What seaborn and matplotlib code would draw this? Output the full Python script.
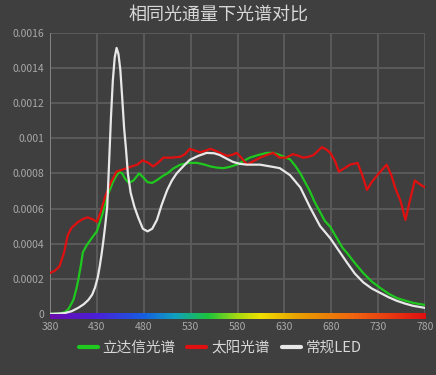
import numpy as np
import pandas as pd
import matplotlib
matplotlib.use("Agg")
import matplotlib.pyplot as plt
from matplotlib.colors import LinearSegmentedColormap
from matplotlib.lines import Line2D
import seaborn as sns

title = "相同光通量下光谱对比"
series_names = ["立达信光谱", "太阳光谱", "常规LED"]
series_colors = ["#1ec81e", "#e01010", "#e8e8e8"]

green_wl = [380, 390, 396, 400, 405, 408, 410, 413, 415, 419, 423, 427, 430, 433, 436, 441, 447, 451, 454, 457, 460, 464, 469, 475, 479, 484, 489, 495, 500, 505, 512, 519, 528, 537, 545, 551, 558, 565, 572, 579, 586, 593, 602, 611, 618, 625, 636, 642, 647, 652, 657, 662, 668, 673, 679, 686, 692, 697, 705, 714, 723, 732, 741, 750, 759, 767, 774, 780]
green_val = [0, 0.02, 0.1, 0.3, 0.8, 1.4, 1.9, 2.8, 3.5, 3.9, 4.2, 4.5, 4.7, 5.2, 5.7, 6.7, 7.5, 7.9, 8.1, 8.0, 7.7, 7.46, 7.6, 8.0, 7.8, 7.5, 7.46, 7.65, 7.85, 8.0, 8.3, 8.5, 8.6, 8.6, 8.5, 8.4, 8.33, 8.3, 8.38, 8.5, 8.7, 8.9, 9.05, 9.17, 9.17, 9.05, 8.8, 8.4, 8.0, 7.5, 7.0, 6.4, 5.8, 5.3, 4.95, 4.3, 3.76, 3.45, 2.9, 2.33, 1.85, 1.48, 1.15, 0.9, 0.75, 0.63, 0.56, 0.51]

red_wl = [380, 385, 390, 395, 399, 403, 410, 415, 420, 425, 430, 434, 439, 445, 451, 456, 462, 467, 473, 479, 485, 490, 495, 501, 510, 519, 524, 529, 535, 540, 546, 551, 556, 562, 569, 574, 579, 584, 590, 597, 604, 611, 618, 625, 632, 639, 645, 650, 656, 661, 666, 670, 675, 679, 684, 688, 694, 700, 708, 713, 718, 723, 729, 734, 739, 744, 748, 754, 759, 764, 769, 774, 780]
red_val = [2.33, 2.45, 2.7, 3.5, 4.5, 4.9, 5.24, 5.4, 5.5, 5.4, 5.24, 5.8, 6.7, 7.5, 8.1, 8.2, 8.3, 8.4, 8.5, 8.75, 8.6, 8.4, 8.6, 8.9, 8.9, 8.95, 9.1, 9.4, 9.3, 9.2, 9.3, 9.4, 9.3, 9.15, 9.0, 9.05, 9.17, 8.9, 8.5, 8.7, 8.9, 9.05, 9.17, 8.9, 8.9, 9.1, 9.0, 8.9, 8.95, 9.05, 9.3, 9.5, 9.35, 9.17, 8.7, 8.1, 8.3, 8.5, 8.6, 7.9, 7.06, 7.5, 7.9, 8.2, 8.5, 7.9, 7.2, 6.4, 5.35, 6.5, 7.6, 7.4, 7.2]

white_wl = [380, 390, 396, 403, 410, 416, 421, 425, 428, 431, 433, 435, 437, 439, 441, 443, 445, 447, 449, 451, 453, 455, 457, 459, 461, 463, 466, 470, 474, 479, 484, 489, 494, 499, 505, 510, 515, 522, 529, 538, 547, 555, 561, 568, 575, 582, 590, 604, 618, 625, 636, 647, 657, 668, 679, 688, 697, 705, 714, 723, 732, 741, 750, 759, 767, 780]
white_val = [0, 0.02, 0.05, 0.15, 0.34, 0.55, 0.8, 1.1, 1.5, 2.1, 2.7, 3.4, 4.2, 5.1, 6.1, 8.6, 11.2, 13.3, 14.6, 15.15, 14.8, 13.9, 12.3, 10.6, 9.4, 8.0, 6.9, 6.1, 5.5, 4.85, 4.7, 4.85, 5.35, 6.2, 7.06, 7.6, 8.0, 8.4, 8.77, 9.0, 9.17, 9.15, 9.05, 8.85, 8.66, 8.55, 8.5, 8.5, 8.37, 8.3, 7.9, 7.2, 6.1, 5.0, 4.3, 3.6, 2.9, 2.3, 1.8, 1.45, 1.2, 0.95, 0.74, 0.58, 0.46, 0.34]

x_ticks = [380, 430, 480, 530, 580, 630, 680, 730, 780]
y_ticks = [0, 0.0002, 0.0004, 0.0006, 0.0008, 0.001, 0.0012, 0.0014, 0.0016]
y_tick_labels = ["0", "0.0002", "0.0004", "0.0006", "0.0008", "0.001", "0.0012", "0.0014", "0.0016"]

frames = []
for name, wl, val in [(series_names[0], green_wl, green_val),
                      (series_names[1], red_wl, red_val),
                      (series_names[2], white_wl, white_val)]:
    frames.append(pd.DataFrame({"wl": wl, "val": np.array(val) * 1e-4, "series": name}))
df = pd.concat(frames, ignore_index=True)

bg = "#3f3f3f"
sns.set_theme(style="dark", rc={"axes.facecolor": bg, "figure.facecolor": bg})
plt.rcParams["font.family"] = ["Noto Sans CJK SC", "DejaVu Sans"]

fig = plt.figure(figsize=(4.36, 3.75), dpi=100)
ax = fig.add_axes([0.1147, 0.163, 0.8603, 0.749])

ax.set_xlim(380, 780)
ax.set_ylim(0, 0.0016)

# grid
for xt in x_ticks[1:]:
    ax.axvline(xt, color="#5a5a5a", lw=1.4, zorder=1)
for yt in y_ticks[1:]:
    ax.axhline(yt, color="#5a5a5a", lw=1.4, zorder=1)
ax.axvline(380, color="#858585", lw=1.4, zorder=1)

sns.lineplot(data=df, x="wl", y="val", hue="series", hue_order=series_names,
             palette=series_colors, lw=1.6, ax=ax, sort=False, estimator=None,
             zorder=3, legend=False)

# rainbow bar
spec = LinearSegmentedColormap.from_list("spec", [
    (0.0, "#6a0dad"), (0.12, "#4b1fd8"), (0.25, "#1560e0"), (0.33, "#10a0c0"),
    (0.42, "#1cc43c"), (0.50, "#a8d810"), (0.56, "#f0e000"), (0.66, "#e8a000"),
    (0.82, "#f06010"), (1.0, "#e01010")])
grad = np.linspace(0, 1, 400).reshape(1, -1)
ax.imshow(grad, cmap=spec, aspect="auto", extent=[380, 780, -0.000032, 0.0],
          clip_on=False, zorder=2)
ax.set_ylim(0, 0.0016)
ax.set_xlim(380, 780)

for s in ax.spines.values():
    s.set_visible(False)

ax.set_xticks(x_ticks)
ax.set_xticklabels([str(v) for v in x_ticks])
ax.set_yticks(y_ticks)
ax.set_yticklabels(y_tick_labels)
ax.tick_params(axis="both", colors="#a8a8a8", labelsize=7.5, length=0)
ax.tick_params(axis="x", pad=6)
ax.tick_params(axis="y", pad=4)
ax.set_xlabel("")
ax.set_ylabel("")
ax.grid(False)

fig.text(0.5, 0.96, title, ha="center", va="center", color="#d8d8d8", fontsize=13)

handles = [Line2D([], [], color=c, lw=3) for c in series_colors]
fig.legend(handles, series_names, loc="center", bbox_to_anchor=(0.505, 0.072),
           ncol=3, frameon=False, fontsize=10.5, labelcolor="#d8d8d8",
           handlelength=1.3, handletextpad=0.35, columnspacing=0.8)

fig.savefig("out.png", dpi=100, facecolor=bg)
